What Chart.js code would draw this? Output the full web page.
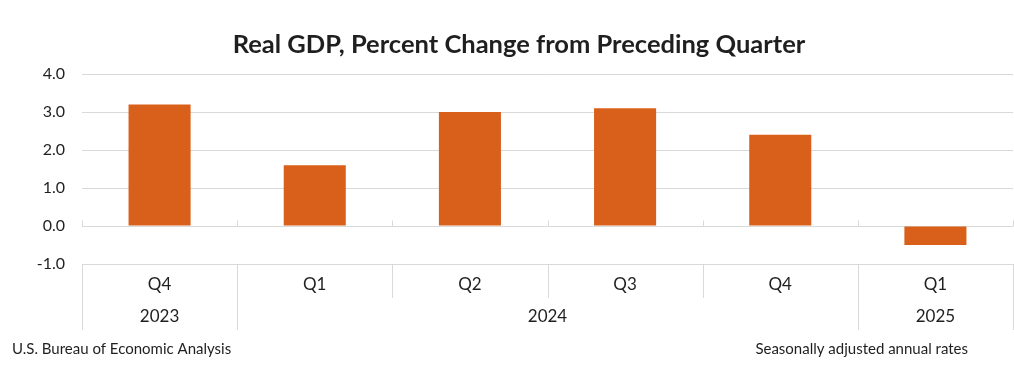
<!DOCTYPE html>
<html>
<head>
<meta charset="utf-8">
<script src="https://cdn.jsdelivr.net/npm/chart.js@4.4.1/dist/chart.umd.min.js"></script>
<style>
  html, body { margin: 0; padding: 0; background: #fff; }
  #wrap { width: 1014px; height: 376px; }
</style>
</head>
<body>
<div id="wrap"><canvas id="gdpChart" width="1014" height="376"></canvas></div>
<script>
const quarters = ['Q4', 'Q1', 'Q2', 'Q3', 'Q4', 'Q1'];
const years = [
  { label: '2023', from: 0, to: 0 },
  { label: '2024', from: 1, to: 4 },
  { label: '2025', from: 5, to: 5 },
];
const gdpChange = [3.2, 1.6, 3.0, 3.1, 2.4, -0.5];
const yTicks = [-1.0, 0.0, 1.0, 2.0, 3.0, 4.0];

const titleText = 'Real GDP, Percent Change from Preceding Quarter';
const sourceText = 'U.S. Bureau of Economic Analysis';
const noteText = 'Seasonally adjusted annual rates';

const fontFamily = 'Lato, "Open Sans", sans-serif';
const textColor = '#1f1f1f';
const lineColor = '#d9d9d9';

const extrasPlugin = {
  id: 'extras',
  afterDraw(chart) {
    const { ctx, chartArea, scales } = chart;
    const x = scales.x;
    const y = scales.y;
    const n = quarters.length;
    const step = (chartArea.right - chartArea.left) / n;
    const edge = i => Math.round(chartArea.left + i * step) + 0.5;
    const zeroY = Math.round(y.getPixelForValue(0)) + 0.5;
    const bottom = chartArea.bottom;

    ctx.save();
    ctx.strokeStyle = lineColor;
    ctx.lineWidth = 1;

    // small tick marks on the zero line
    for (let i = 0; i <= n; i++) {
      ctx.beginPath();
      ctx.moveTo(edge(i), zeroY - 6);
      ctx.lineTo(edge(i), zeroY);
      ctx.stroke();
    }

    // quarter separators
    for (let i = 0; i <= n; i++) {
      ctx.beginPath();
      ctx.moveTo(edge(i), bottom);
      ctx.lineTo(edge(i), bottom + 34);
      ctx.stroke();
    }

    // year separators
    const yearEdges = [0];
    years.forEach(yr => yearEdges.push(yr.to + 1));
    yearEdges.forEach(i => {
      ctx.beginPath();
      ctx.moveTo(edge(i), bottom + 34);
      ctx.lineTo(edge(i), bottom + 66);
      ctx.stroke();
    });

    // year labels
    ctx.fillStyle = textColor;
    ctx.font = '17px ' + fontFamily;
    ctx.textAlign = 'center';
    ctx.textBaseline = 'middle';
    years.forEach(yr => {
      const cx = (x.getPixelForValue(yr.from) + x.getPixelForValue(yr.to)) / 2;
      ctx.fillText(yr.label, cx, bottom + 53);
    });

    // title
    ctx.font = 'bold 25.5px ' + fontFamily;
    ctx.fillText(titleText, 519, 45);

    // footer notes
    ctx.font = '15px ' + fontFamily;
    ctx.textAlign = 'left';
    ctx.fillText(sourceText, 12, 349);
    ctx.textAlign = 'right';
    ctx.fillText(noteText, 968, 349);
    ctx.restore();
  },
};

new Chart(document.getElementById('gdpChart'), {
  type: 'bar',
  data: {
    labels: quarters,
    datasets: [
      {
        label: 'Real GDP',
        data: gdpChange,
        backgroundColor: '#D9601A',
        borderWidth: 0,
        categoryPercentage: 1.0,
        barPercentage: 0.4,
      },
    ],
  },
  options: {
    responsive: false,
    animation: false,
    layout: {
      padding: { top: 74, right: 1, bottom: 0, left: 0 },
    },
    plugins: {
      legend: { display: false },
      title: { display: false },
      tooltip: { enabled: false },
    },
    scales: {
      x: {
        grid: { display: false },
        border: { display: true, color: lineColor },
        ticks: {
          color: textColor,
          font: { family: fontFamily, size: 17 },
          padding: 2,
          maxRotation: 0,
        },
        afterFit: scale => { scale.height = 112; },
      },
      y: {
        min: -1,
        max: 4,
        afterBuildTicks: scale => {
          scale.ticks = yTicks.map(v => ({ value: v }));
        },
        grid: { color: lineColor, drawTicks: false },
        border: { display: false },
        ticks: {
          color: textColor,
          font: { family: fontFamily, size: 16 },
          padding: 17,
          callback: value => Number(value).toFixed(1),
        },
        afterFit: scale => { scale.width = 82; },
      },
    },
  },
  plugins: [extrasPlugin],
});
</script>
</body>
</html>
